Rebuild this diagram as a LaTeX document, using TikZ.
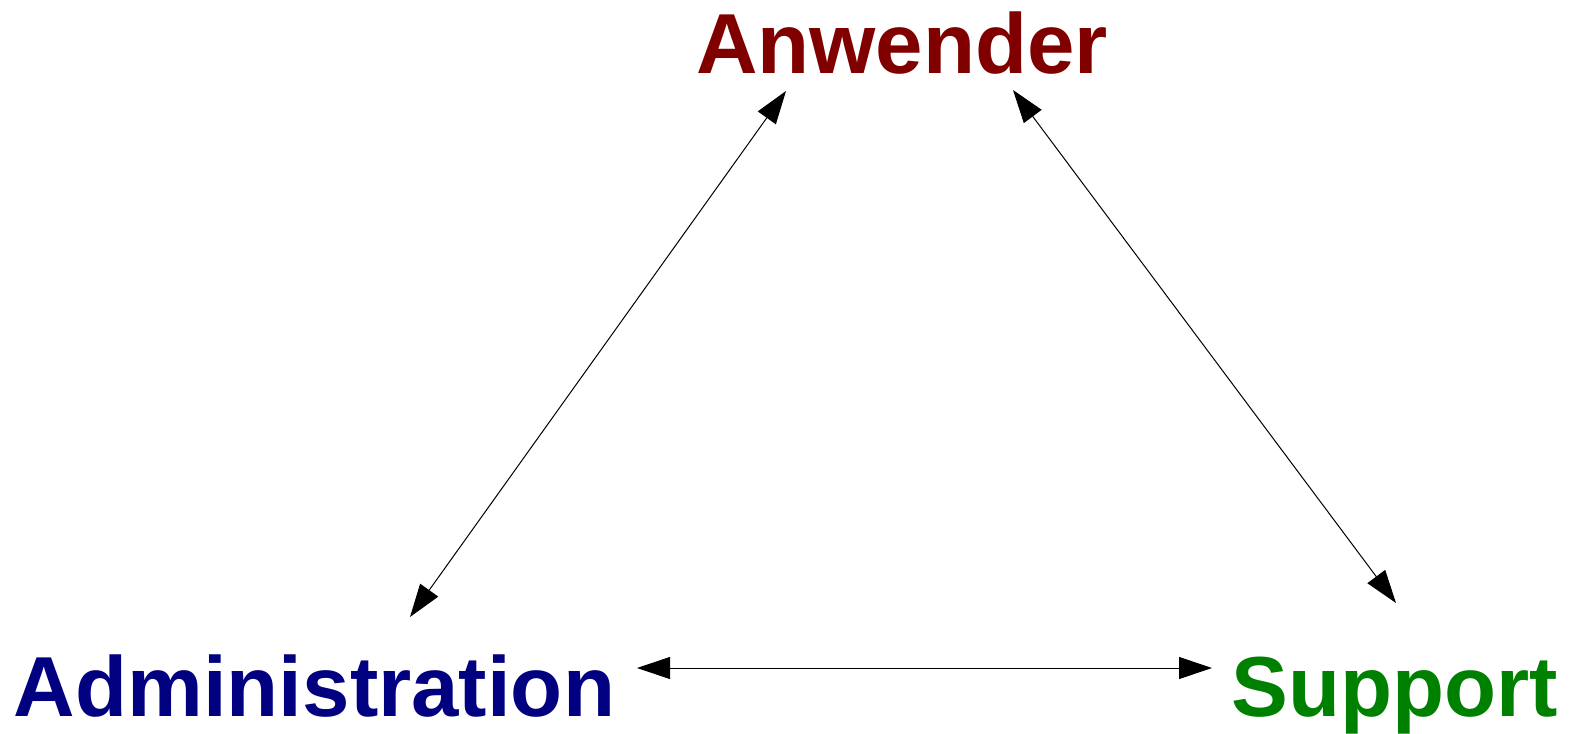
\documentclass[tikz,border=0pt]{standalone}
\usepackage{fontspec}
\setmainfont{Liberation Sans}
\usetikzlibrary{arrows.meta}

\definecolor{anwred}{RGB}{128,0,0}
\definecolor{admblue}{RGB}{0,0,128}
\definecolor{supgreen}{RGB}{0,128,0}

\begin{document}
\begin{tikzpicture}[
  x=0.5pt, y=-0.5pt,
  role/.style={text=#1, font=\fontsize{42.6}{50}\selectfont\bfseries, inner sep=0pt, anchor=base},
  link/.style={{Triangle[length=16.5pt, width=11pt]}-{Triangle[length=16.5pt, width=11pt]}, line width=0.5pt, draw=black}
]
  \useasboundingbox (0,0) rectangle (1571,734);

  \node[role=anwred] (anw) at (902,73) {Anwender};
  \node[role=admblue] (adm) at (314.5,716) {Administration};
  \node[role=supgreen] (sup) at (1394.5,716) {Support};

  % arrow ends
  \coordinate (admtop) at (410,617);
  \coordinate (anwleft) at (786,91);
  \coordinate (anwright) at (1013,90);
  \coordinate (suptop) at (1396,603);
  \coordinate (admright) at (637,668);
  \coordinate (supleft) at (1212,668);

  \draw[link] (admtop) -- (anwleft);
  \draw[link] (anwright) -- (suptop);
  \draw[link] (admright) -- (supleft);
\end{tikzpicture}
\end{document}
